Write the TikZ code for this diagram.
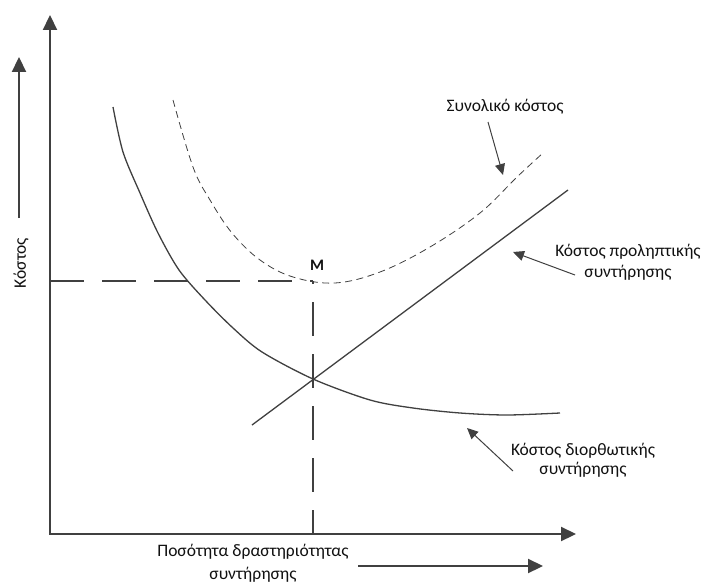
\documentclass[tikz,border=0pt]{standalone}
\usepackage{fontspec}
\setmainfont{Carlito}
\usetikzlibrary{arrows.meta}
\definecolor{ink}{HTML}{404040}
\definecolor{txt}{HTML}{111111}
\begin{document}
\begin{tikzpicture}[x=1pt,y=-1pt,
  axis/.style={draw=ink, line width=2.2pt, line join=miter},
  bigtip/.style={-{Triangle[length=15pt,width=14pt]}},
  guide/.style={draw=ink, line width=2pt, dash pattern=on 34pt off 18pt},
  cost/.style={draw=ink, line width=1.3pt},
  total/.style={draw=ink, line width=0.8pt, dash pattern=on 7pt off 4.5pt},
  note/.style={draw=ink, line width=1pt, -{Triangle[length=11pt,width=10pt]}},
  lbl/.style={text=txt, font=\fontsize{17.5}{21}\selectfont, align=center, inner sep=0pt}
]
\useasboundingbox (0,0) rectangle (704,586);

% axes
\coordinate (origin) at (50,534);
\coordinate (ytop) at (50,15);
\coordinate (xend) at (576,534);
\draw[axis, {Triangle[length=15pt,width=14pt]}-{Triangle[length=15pt,width=14pt]}] (ytop) -- (origin) -- (xend);

% axis direction arrows and titles
\coordinate (ydirA) at (19,218);
\coordinate (ydirB) at (19,57);
\draw[axis, bigtip] (ydirA) -- (ydirB);
\node[lbl, rotate=90] (ylabel) at (21,263) {Κόστος};

\coordinate (xdirA) at (358,566);
\coordinate (xdirB) at (543,566);
\draw[axis, bigtip] (xdirA) -- (xdirB);
\node[lbl, font=\fontsize{17.5}{22.5}\selectfont] (xlabel) at (253,563) {Ποσότητα δραστηριότητας\\συντήρησης};

% optimum point M and its guide lines
\coordinate (M) at (313,281);
\coordinate (Myaxis) at (50,281);
\coordinate (Mxaxis) at (313,534);
\draw[guide] (Myaxis) -- (M);
\draw[guide, dash phase=31pt] (M) -- (Mxaxis);
\node[font=\fontsize{16}{18}\selectfont\bfseries, text=txt, inner sep=0pt] (Mlabel) at (317,265) {M};

% corrective maintenance cost
\draw[cost] plot[smooth, tension=0.5] coordinates {
  (113,107) (123,152) (140,193) (158,233) (179,270) (205,300) (233,328)
  (262,352) (313,379) (370,400) (413,408) (460,413) (507,415) (560,413)};

% preventive maintenance cost
\coordinate (prevA) at (252,425);
\coordinate (prevB) at (568,190);
\draw[cost] (prevA) -- (prevB);

% total cost
\draw[total] plot[smooth, tension=0.6] coordinates {
  (173,100) (193,167) (210,200) (232,233) (260,260) (293,277) (335,283)
  (380,272) (430,247) (480,213) (517,177) (543,153)};

% annotations
\node[lbl] (totalLbl) at (505,107) {Συνολικό κόστος};
\coordinate (totalTail) at (488,122);
\coordinate (totalTip) at (503,175);
\draw[note] (totalTail) -- (totalTip);

\node[lbl] (prevLbl) at (628,262) {Κόστος προληπτικής\\συντήρησης};
\coordinate (prevTail) at (575,275);
\coordinate (prevTip) at (513,252);
\draw[note] (prevTail) -- (prevTip);

\node[lbl, font=\fontsize{17.5}{19}\selectfont] (corrLbl) at (583,460) {Κόστος διορθωτικής\\συντήρησης};
\coordinate (corrTail) at (513,471);
\coordinate (corrTip) at (467,428);
\draw[note] (corrTail) -- (corrTip);
\end{tikzpicture}
\end{document}
